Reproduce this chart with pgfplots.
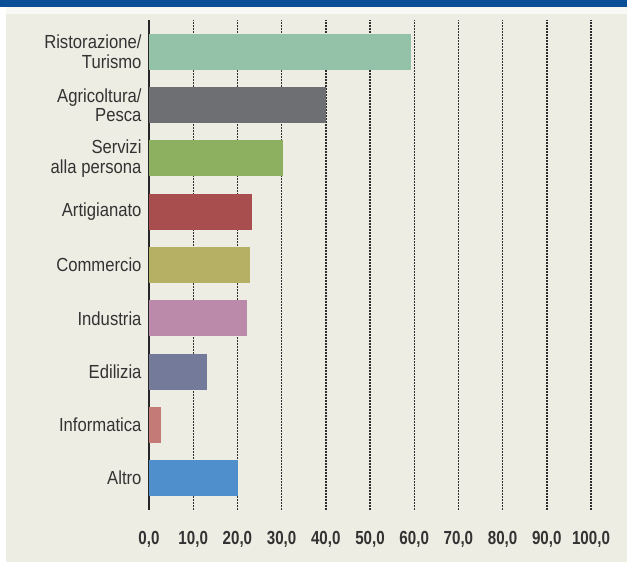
\documentclass[border=0pt]{standalone}
\usepackage{pgfplots}
\pgfplotsset{compat=1.18}
\usepackage{fontspec}
\setmainfont{Liberation Sans}[FakeStretch=0.88]
\newfontfamily\tickfont{Liberation Sans}[FakeStretch=0.8]
\definecolor{bg}{HTML}{EEEDE3}
\definecolor{band}{HTML}{0B4F97}
\definecolor{txt}{HTML}{333333}
\definecolor{grid}{HTML}{2E2E2E}
\definecolor{cA}{HTML}{93C2A8}
\definecolor{cB}{HTML}{6D6F73}
\definecolor{cC}{HTML}{8DB060}
\definecolor{cD}{HTML}{A84E4E}
\definecolor{cE}{HTML}{B5B064}
\definecolor{cF}{HTML}{BB8AAA}
\definecolor{cG}{HTML}{737A9A}
\definecolor{cH}{HTML}{C47B78}
\definecolor{cI}{HTML}{4F8FCB}
\begin{document}
\begin{tikzpicture}[x=1bp,y=1bp]
\fill[white] (0,0) rectangle (627,562);
\fill[bg] (6,0) rectangle (627,556);
\fill[band] (0,555) rectangle (627,562);
\fill[white!60!bg] (6,548) rectangle (627,555);
\begin{axis}[
  at={(149bp,52bp)}, anchor=south west,
  scale only axis, width=442bp, height=490bp,
  xmin=0, xmax=100, ymin=-0.6, ymax=8.6,
  axis y line=left, axis x line=bottom,
  axis line style={-, draw=black!85, line width=1.2pt},
  x axis line style={draw=none},
  xbar, bar width=36bp, bar shift=0pt,
  xtick={0,10,...,100},
  ytick={0,...,8},
  yticklabels={Altro,Informatica,Edilizia,Industria,Commercio,Artigianato,{Servizi\\alla persona},{Agricoltura/\\Pesca},{Ristorazione/\\Turismo}},
  major tick length=0pt,
  xmajorgrids=true,
  major grid style={draw=grid, line width=1.4pt, dash pattern=on 1.5bp off 1.5bp},
  /pgf/number format/.cd, fixed, fixed zerofill, precision=1, use comma, assume math mode=true,
  /pgfplots/.cd,
  xticklabel style={font=\tickfont\fontsize{19}{21}\selectfont\bfseries, text=txt, yshift=-18bp},
  yticklabel style={font=\fontsize{19}{20}\selectfont, text=txt, align=right, xshift=-4bp},
]
\addplot[draw=none, fill=cA] coordinates {(59.3,8)};
\addplot[draw=none, fill=cB] coordinates {(40.0,7)};
\addplot[draw=none, fill=cC] coordinates {(30.3,6)};
\addplot[draw=none, fill=cD] coordinates {(23.3,5)};
\addplot[draw=none, fill=cE] coordinates {(22.9,4)};
\addplot[draw=none, fill=cF] coordinates {(22.2,3)};
\addplot[draw=none, fill=cG] coordinates {(13.1,2)};
\addplot[draw=none, fill=cH] coordinates {(2.7,1)};
\addplot[draw=none, fill=cI] coordinates {(20.1,0)};
\end{axis}
\end{tikzpicture}
\end{document}
